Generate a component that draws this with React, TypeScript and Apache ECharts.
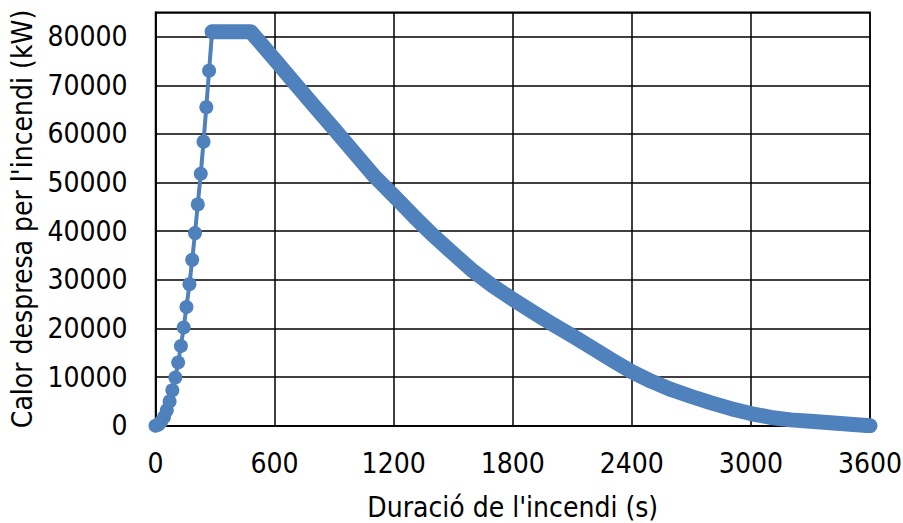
import React, { useEffect, useRef } from "react";
import * as echarts from "echarts";

// Growth phase (t-squared), drawn with markers
const growthTime = [0, 14, 28, 43, 57, 71, 85, 100, 114, 128, 142, 156, 171, 185, 199, 213, 228, 242, 256, 270, 285];
const growthHeat = [0, 200, 800, 1800, 3200, 5000, 7300, 9900, 13000, 16400, 20200, 24400, 29100, 34100, 39600, 45500, 51800, 58400, 65500, 73000, 81000];

// Plateau and decay phase (dense markers in the original, forming a thick band)
const decayTime = [285, 480, 600, 700, 800, 900, 1000, 1100, 1200, 1300, 1400, 1500, 1600, 1700, 1800, 1900, 2000, 2100, 2200, 2300, 2400, 2500, 2600, 2700, 2800, 2900, 3000, 3100, 3200, 3300, 3400, 3500, 3600];
const decayHeat = [81000, 81000, 75300, 70500, 65700, 61000, 56200, 51400, 47300, 43100, 39100, 35400, 31800, 28700, 26000, 23400, 20900, 18500, 16000, 13500, 11100, 9100, 7400, 6000, 4700, 3500, 2500, 1700, 1200, 900, 600, 300, 0];

const xTicks = [0, 600, 1200, 1800, 2400, 3000, 3600];
const yTicks = [0, 10000, 20000, 30000, 40000, 50000, 60000, 70000, 80000];

const xTitle = "Duració de l'incendi (s)";
const yTitle = "Calor despresa per l'incendi (kW)";

const BLUE = "#4F81BD";
const FONT = "'DejaVu Sans Condensed', 'DejaVu Sans', sans-serif";

export default function App() {
  const ref = useRef<HTMLDivElement>(null);

  useEffect(() => {
    if (!ref.current) return;
    const chart = echarts.init(ref.current, undefined, { renderer: "svg" });
    const growth = growthTime.map((t, i) => [t, growthHeat[i]]);
    const decay = decayTime.map((t, i) => [t, decayHeat[i]]);
    chart.setOption({
      animation: false,
      backgroundColor: "#ffffff",
      grid: {
        left: 155.5,
        right: 33,
        top: 12.3,
        bottom: 97.3,
        containLabel: false,
        outerBoundsMode: "none",
        show: true,
        borderColor: "#000",
        borderWidth: 1.5,
        backgroundColor: "transparent",
      },
      xAxis: {
        type: "value",
        min: xTicks[0],
        max: xTicks[xTicks.length - 1],
        interval: xTicks[1] - xTicks[0],
        axisLine: { show: true, lineStyle: { color: "#000", width: 1.5 } },
        axisTick: { show: false },
        splitLine: { show: true, lineStyle: { color: "#000", width: 1.5 } },
        axisLabel: {
          color: "#000",
          fontSize: 28,
          fontFamily: FONT,
          margin: 24,
          formatter: (v: number) => String(v),
        },
        name: xTitle,
        nameLocation: "middle",
        nameGap: 68,
        nameTextStyle: { color: "#000", fontSize: 28, fontFamily: FONT },
      },
      yAxis: {
        type: "value",
        min: yTicks[0],
        max: 85000,
        interval: yTicks[1] - yTicks[0],
        axisLine: { show: true, lineStyle: { color: "#000", width: 1.5 } },
        axisTick: { show: false },
        splitLine: { show: true, lineStyle: { color: "#000", width: 1.5 } },
        axisLabel: {
          color: "#000",
          fontSize: 28,
          fontFamily: FONT,
          margin: 28,
          showMaxLabel: false,
          formatter: (v: number) => (yTicks.includes(v) ? String(v) : ""),
        },
        name: yTitle,
        nameLocation: "middle",
        nameGap: 112,
        nameTextStyle: { color: "#000", fontSize: 28, fontFamily: FONT },
      },
      series: [
        {
          type: "line",
          data: decay,
          showSymbol: false,
          symbol: "none",
          lineStyle: { color: BLUE, width: 15, cap: "round", join: "round" },
          z: 2,
        },
        {
          type: "line",
          data: growth,
          symbol: "circle",
          symbolSize: 14,
          itemStyle: { color: BLUE },
          lineStyle: { color: BLUE, width: 4 },
          z: 3,
        },
      ],
    });
    return () => chart.dispose();
  }, []);

  return (
    <div
      ref={ref}
      style={{ position: "fixed", left: 0, top: 0, width: 903, height: 523 }}
    />
  );
}
